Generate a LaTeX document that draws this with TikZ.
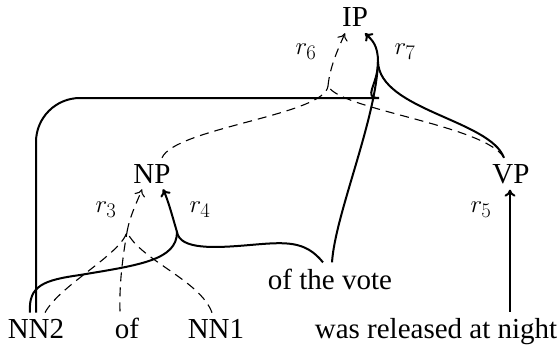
\documentclass[tikz,border=0pt]{standalone}
\usepackage{fontspec}
\setmainfont{Liberation Serif}
\usetikzlibrary{arrows.meta}
\begin{document}
\begin{tikzpicture}[x=1pt,y=-1pt,
  word/.style={anchor=base,inner sep=6pt,font=\fontsize{29}{34}\selectfont},
  rlabel/.style={inner sep=0pt,font=\fontsize{29}{34}\selectfont},
  solidedge/.style={line width=2pt},
  dashededge/.style={line width=1.1pt,dash pattern=on 9pt off 6pt},
  arrowtip/.style={-{To[length=7pt,width=11pt]}}]
\useasboundingbox (0,0) rectangle (559,348);
% nodes
\node[word] (IP) at (355,27) {IP};
\node[word] (NP) at (152,183) {NP};
\node[word] (VP) at (511,183) {VP};
\node[word] (otv) at (330,289) {of the vote};
\node[word] (NN2) at (36,338) {NN2};
\node[word] (of) at (127,338) {of};
\node[word] (NN1) at (216,338) {NN1};
\node[word] (wran) at (436,338) {was released at night};
% labels
\node[rlabel] (l3) at (106,210) {$r_3$};
\node[rlabel] (l4) at (200,210) {$r_4$};
\node[rlabel] (l5) at (481,210) {$r_5$};
\node[rlabel] (l6) at (306,52) {$r_6$};
\node[rlabel] (l7) at (405,52) {$r_7$};
% junctions
\coordinate (j3) at (127,232);
\coordinate (j4) at (177,232);
\coordinate (j6) at (328,86);
\coordinate (j7) at (378,62);
% r5
\draw[solidedge,arrowtip] ([xshift=-1pt]VP.south |- wran.north) -- ([xshift=-1pt]VP.south);
% r3 (dashed)
\draw[dashededge] ([xshift=9pt]NN2.north) .. controls (60,285) and (120,255) .. (j3);
\draw[dashededge] ([xshift=-7pt]of.north) .. controls (119,280) and (124,250) .. (j3);
\draw[dashededge] ([xshift=-4pt]NN1.north) .. controls (200,280) and (140,260) .. (j3);
\draw[dashededge,arrowtip] (j3) .. controls (130,215) and (138,200) .. ([xshift=-10pt]NP.south);
% r4 (solid)
\draw[solidedge] ([xshift=-6pt]NN2.north) .. controls (28,285) and (45,280) .. (80,275)
  .. controls (140,265) and (177,260) .. (j4);
\draw[solidedge] ([xshift=-7pt]otv.north) .. controls (305,240) and (285,242) .. (250,245)
  .. controls (215,248) and (180,250) .. (j4);
\draw[solidedge,arrowtip] (j4) .. controls (172,215) and (168,200) .. ([xshift=11pt]NP.south);
% r6 (dashed)
\draw[dashededge] ([xshift=10pt]NP.north) .. controls (175,128) and (325,115) .. (j6);
\draw[dashededge] ([xshift=-7pt]VP.north) .. controls (485,125) and (340,110) .. (j6);
\draw[dashededge,arrowtip] (j6) .. controls (330,65) and (340,45) .. ([xshift=-10pt]IP.south);
% r7 (solid)
\draw[solidedge,rounded corners=44pt] (NN2.north) |- (335,98) [sharp corners]
  .. controls (362,98) and (378,85) .. (j7);
\draw[solidedge] ([xshift=2pt]otv.north) .. controls (335,215) and (376,120) .. (j7);
\draw[solidedge] ([xshift=-7pt]VP.north) .. controls (490,120) and (380,110) .. (j7);
\draw[solidedge,arrowtip] (j7) .. controls (378,45) and (372,40) .. ([xshift=10pt]IP.south);
\end{tikzpicture}
\end{document}
